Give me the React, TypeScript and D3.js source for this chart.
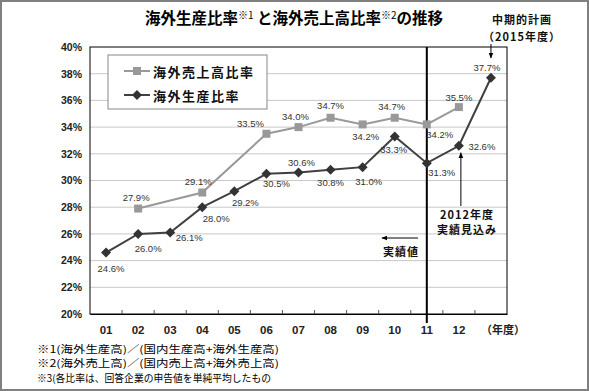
import * as d3 from 'd3';
import React, { useRef, useEffect } from 'react';

const years = ["01", "02", "03", "04", "05", "06", "07", "08", "09", "10", "11", "12", "15"];
const xTickLabels = ["01", "02", "03", "04", "05", "06", "07", "08", "09", "10", "11", "12", "（年度）"];
const yTicks = [20, 22, 24, 26, 28, 30, 32, 34, 36, 38, 40];
// 海外売上高比率 (no answer for 01, 03, 05, 2015)
const salesRatio = [null, 27.9, null, 29.1, null, 33.5, 34.0, 34.7, 34.2, 34.7, 34.2, 35.5, null];
// 海外生産比率
const productionRatio = [24.6, 26.0, 26.1, 28.0, 29.2, 30.5, 30.6, 30.8, 31.0, 33.3, 31.3, 32.6, 37.7];
const seriesNames = ["海外売上高比率", "海外生産比率"];
const footnotes = [
    "※1(海外生産高)／(国内生産高+海外生産高)",
    "※2(海外売上高)／(国内売上高+海外売上高)",
    "※3(各比率は、回答企業の申告値を単純平均したもの",
];
const footnoteWidths = [242, 242, 234];

// label offsets (dx, dy) from each point
const salesLabelPos = [null, [-2, -11], null, [-4, -11], null, [-16, -10], [-3, -11], [0, -12], [3, 12], [-3, -11], [13, 10], [0, -10], null];
const prodLabelPos = [[5, 16], [10, 15], [19, 5], [14, 11], [11, 11], [10, 10], [3, -10], [0, 13], [6, 14], [-1, 13], [15, 9], [23, 1], [-4, -10]];

const W = 589;
const H = 391;
const JP = '"Noto Sans CJK JP", "Liberation Sans", sans-serif';
const NUM = '"Liberation Sans", Arial, sans-serif';

function App() {
    const ref = useRef<SVGSVGElement>(null);
    const left = 90, right = 507, top = 47, bottom = 314;

    useEffect(() => {
        const svg = d3.select(ref.current);
        svg.selectAll("*").remove();

        const x = d3.scaleBand().domain(years).range([left, right]).padding(0);
        const y = d3.scaleLinear().domain([20, 40]).range([bottom, top]);
        const cx = (i: number) => (x(years[i]) as number) + x.bandwidth() / 2;

        // frame
        svg.append("rect").attr("x", 1).attr("y", 1).attr("width", W - 2).attr("height", H - 2)
            .attr("fill", "#fff").attr("stroke", "#808080").attr("stroke-width", 2);

        // title
        const title = svg.append("text").attr("x", 294).attr("y", 24).attr("text-anchor", "middle")
            .attr("font-family", JP).attr("font-size", 15.5).attr("font-weight", "bold").attr("fill", "#000");
        title.append("tspan").text("海外生産比率");
        title.append("tspan").text("※1").attr("font-size", 10).attr("dy", -5).attr("font-weight", "normal");
        title.append("tspan").text(" と海外売上高比率").attr("dy", 5);
        title.append("tspan").text("※2").attr("font-size", 10).attr("dy", -5).attr("font-weight", "normal");
        title.append("tspan").text("の推移").attr("dy", 5);

        // grid
        svg.append("g").selectAll("line").data(yTicks.slice(1, -1)).join("line")
            .attr("x1", left).attr("x2", right)
            .attr("y1", d => y(d)).attr("y2", d => y(d))
            .attr("stroke", "#c8c8c8").attr("stroke-width", 1);

        svg.append("rect").attr("x", left).attr("y", top).attr("width", right - left).attr("height", bottom - top)
            .attr("fill", "none").attr("stroke", "#000").attr("stroke-width", 1);

        // y axis
        const yAxis = svg.append("g").attr("transform", `translate(${left},0)`)
            .call(d3.axisLeft(y).tickValues(yTicks).tickSize(0).tickPadding(8).tickFormat(d => `${d}%`));
        yAxis.select(".domain").remove();
        yAxis.selectAll("text").attr("font-family", NUM).attr("font-size", 10.5).attr("font-weight", "bold").attr("fill", "#222");

        // x axis
        const xAxis = svg.append("g").attr("transform", `translate(0,${bottom})`)
            .call(d3.axisBottom(x).tickSize(0).tickPadding(12).tickFormat((d, i) => xTickLabels[i]));
        xAxis.select(".domain").attr("stroke", "#000");
        xAxis.selectAll("text").attr("font-family", NUM).attr("font-size", 11.5).attr("font-weight", "bold").attr("fill", "#222");
        xAxis.selectAll("text").filter((d, i) => i === years.length - 1)
            .attr("font-family", JP).attr("font-size", 11).attr("dx", 12);
        svg.append("g").selectAll("line").data(years.slice(1)).join("line")
            .attr("x1", d => x(d) as number).attr("x2", d => x(d) as number)
            .attr("y1", bottom).attr("y2", bottom - 4)
            .attr("stroke", "#555");

        // divider between actual and forecast
        svg.append("line").attr("x1", cx(10)).attr("x2", cx(10)).attr("y1", top).attr("y2", bottom + 9)
            .attr("stroke", "#000").attr("stroke-width", 2);

        const line = d3.line<[number, number]>().x(d => cx(d[0])).y(d => y(d[1]));
        const salesPts = salesRatio.map((v, i) => [i, v]).filter(d => d[1] != null) as [number, number][];
        const prodPts = productionRatio.map((v, i) => [i, v]) as [number, number][];

        svg.append("path").attr("d", line(salesPts)).attr("fill", "none").attr("stroke", "#999").attr("stroke-width", 2);
        svg.append("path").attr("d", line(prodPts)).attr("fill", "none").attr("stroke", "#404040").attr("stroke-width", 2);

        const square = d3.symbol(d3.symbolSquare, 64)();
        const diamond = d3.symbol(d3.symbolSquare, 50)();
        svg.append("g").selectAll("path").data(salesPts).join("path")
            .attr("d", square).attr("transform", d => `translate(${cx(d[0])},${y(d[1])})`)
            .attr("fill", "#999");
        svg.append("g").selectAll("path").data(prodPts).join("path")
            .attr("d", diamond).attr("transform", d => `translate(${cx(d[0])},${y(d[1])}) rotate(45)`)
            .attr("fill", "#333");

        // value labels
        const labels = svg.append("g").attr("font-family", NUM).attr("font-size", 9.5).attr("fill", "#333")
            .attr("text-anchor", "middle").attr("dominant-baseline", "central");
        labels.selectAll("text.s").data(salesPts).join("text").attr("class", "s")
            .attr("x", d => cx(d[0]) + (salesLabelPos[d[0]] as number[])[0])
            .attr("y", d => y(d[1]) + (salesLabelPos[d[0]] as number[])[1])
            .text(d => `${d[1].toFixed(1)}%`);
        labels.selectAll("text.p").data(prodPts).join("text").attr("class", "p")
            .attr("x", d => cx(d[0]) + prodLabelPos[d[0]][0])
            .attr("y", d => y(d[1]) + prodLabelPos[d[0]][1])
            .text(d => `${d[1].toFixed(1)}%`);

        // arrows
        const defs = svg.append("defs");
        defs.append("marker").attr("id", "ah").attr("viewBox", "0 0 10 10").attr("refX", 9).attr("refY", 5)
            .attr("markerWidth", 6).attr("markerHeight", 6).attr("orient", "auto")
            .append("path").attr("d", "M0,1L10,5L0,9Z").attr("fill", "#000");

        const ann = svg.append("g").attr("font-family", JP).attr("font-size", 11).attr("font-weight", "bold")
            .attr("fill", "#111").attr("text-anchor", "middle").attr("letter-spacing", 1);

        // 2015 plan
        ann.append("text").attr("x", 522).attr("y", 24).text("中期的計画");
        ann.append("text").attr("x", 522).attr("y", 41).text("（2015年度）");
        svg.append("line").attr("x1", cx(12)).attr("x2", cx(12)).attr("y1", 44).attr("y2", 58)
            .attr("stroke", "#000").attr("marker-end", "url(#ah)");

        // 2012 estimate
        ann.append("text").attr("x", 467).attr("y", 219).text("2012年度");
        ann.append("text").attr("x", 467).attr("y", 234).text("実績見込み");
        svg.append("line").attr("x1", cx(11) + 2).attr("x2", cx(11) + 2).attr("y1", 206).attr("y2", y(32.6) + 7)
            .attr("stroke", "#000").attr("marker-end", "url(#ah)");

        // actual values
        ann.append("text").attr("x", 401).attr("y", 256).text("実績値");
        svg.append("line").attr("x1", 418).attr("x2", 382).attr("y1", 238).attr("y2", 238)
            .attr("stroke", "#000").attr("marker-end", "url(#ah)");

        // legend
        const lg = svg.append("g");
        lg.append("rect").attr("x", 108).attr("y", 55).attr("width", 159).attr("height", 54)
            .attr("fill", "#fff").attr("stroke", "#888");
        const rows = [
            { name: seriesNames[0], color: "#999", sym: square, rot: 0, yy: 71 },
            { name: seriesNames[1], color: "#404040", sym: diamond, rot: 45, yy: 95 },
        ];
        rows.forEach(r => {
            lg.append("line").attr("x1", 124).attr("x2", 150).attr("y1", r.yy).attr("y2", r.yy)
                .attr("stroke", r.color).attr("stroke-width", 2);
            lg.append("path").attr("d", r.sym).attr("transform", `translate(137,${r.yy}) rotate(${r.rot})`)
                .attr("fill", r.rot ? "#333" : r.color);
            lg.append("text").attr("x", 153).attr("y", r.yy).attr("dominant-baseline", "central")
                .attr("font-family", JP).attr("font-size", 13).attr("font-weight", "bold")
                .attr("letter-spacing", 1.5).attr("fill", "#111").text(r.name);
        });

        // footnotes
        svg.append("g").selectAll("text").data(footnotes).join("text")
            .attr("x", 37).attr("y", (d, i) => 352.5 + i * 14.5)
            .attr("font-family", JP).attr("font-size", 10).attr("fill", "#000")
            .attr("textLength", (d, i) => footnoteWidths[i]).attr("lengthAdjust", "spacingAndGlyphs")
            .text(d => d);
    }, []);

    return (
        <div className="chart">
            <svg ref={ref} width={W} height={H}
                style={{ position: "absolute", left: 0, top: 0, display: "block" }}>
            </svg>
        </div>
    );
}

export default App;
